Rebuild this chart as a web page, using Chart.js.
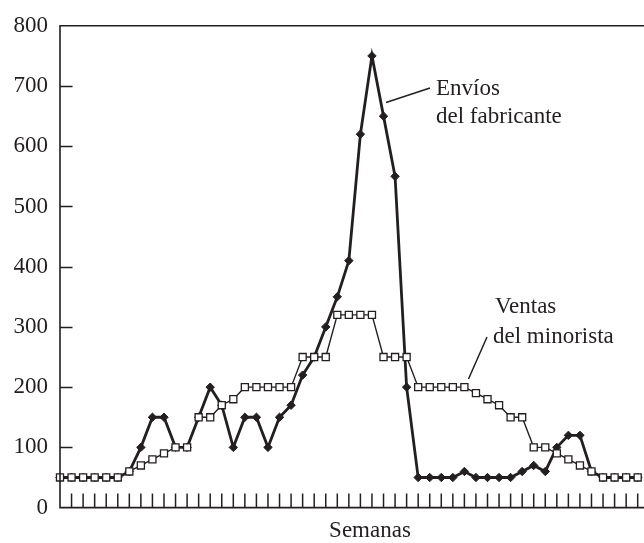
<!DOCTYPE html>
<html>
<head>
<meta charset="utf-8">
<script src="https://cdn.jsdelivr.net/npm/chart.js@4.4.1/dist/chart.umd.min.js"></script>
<style>
  html, body { margin: 0; padding: 0; background: #ffffff; }
  #wrap { position: relative; width: 644px; height: 543px; }
</style>
</head>
<body>
<div id="wrap"><canvas id="c" width="644" height="543"></canvas></div>
<script>
// Weekly figures (units per week)
const weeks = Array.from({ length: 51 }, (_, i) => String(i + 1));

const retailerSales = [
  50, 50, 50, 50, 50, 50, 60, 70, 80, 90,
  100, 100, 150, 150, 170, 180, 200, 200, 200, 200,
  200, 250, 250, 250, 320, 320, 320, 320, 250, 250,
  250, 200, 200, 200, 200, 200, 190, 180, 170, 150,
  150, 100, 100, 90, 80, 70, 60, 50, 50, 50,
  50
];

const manufacturerShipments = [
  50, 50, 50, 50, 50, 50, 60, 100, 150, 150,
  100, 100, 150, 200, 170, 100, 150, 150, 100, 150,
  170, 220, 250, 300, 350, 410, 620, 750, 650, 550,
  200, 50, 50, 50, 50, 60, 50, 50, 50, 50,
  60, 70, 60, 100, 120, 120, 60, 50, 50, 50,
  50
];

const yTicks = [0, 100, 200, 300, 400, 500, 600, 700, 800];

const INK = '#231f20';
const FONT = '"Liberation Serif", "Times New Roman", serif';

// Axis frame, inward tick marks and annotations
const framePlugin = {
  id: 'frame',
  afterDraw(chart) {
    const { ctx, chartArea } = chart;
    const x = chart.scales.x, y = chart.scales.y;
    const left = chartArea.left, bottom = y.getPixelForValue(0), top = y.getPixelForValue(800);
    const right = 644;
    ctx.save();
    ctx.strokeStyle = INK;
    ctx.lineWidth = 1.6;
    ctx.beginPath();
    ctx.moveTo(right, top); ctx.lineTo(left, top);
    ctx.lineTo(left, bottom); ctx.lineTo(right, bottom);
    ctx.stroke();

    // y ticks pointing into the plot
    ctx.lineWidth = 1.5;
    ctx.beginPath();
    yTicks.forEach(v => {
      if (v === 0 || v === 800) return;
      const py = Math.round(y.getPixelForValue(v)) + 0.5;
      ctx.moveTo(left, py); ctx.lineTo(left + 12.5, py);
    });
    ctx.stroke();

    // x ticks pointing up from the baseline
    ctx.beginPath();
    weeks.forEach((w, i) => {
      if (i === 0) return;
      const px = x.getPixelForValue(i);
      ctx.moveTo(px, bottom); ctx.lineTo(px, bottom - 14);
    });
    ctx.stroke();

    // callout leaders
    ctx.lineWidth = 1.5;
    ctx.beginPath();
    ctx.moveTo(386, 102.5); ctx.lineTo(430, 88);
    ctx.moveTo(468.5, 379); ctx.lineTo(487, 337);
    ctx.stroke();

    ctx.fillStyle = INK;
    ctx.font = '23px ' + FONT;
    ctx.textBaseline = 'alphabetic';
    ctx.textAlign = 'left';
    ctx.fillText('Envíos', 436, 95);
    ctx.fillText('del fabricante', 436, 123);
    ctx.fillText('Ventas', 495, 313);
    ctx.fillText('del minorista', 493, 343);
    ctx.textAlign = 'center';
    ctx.fillText('Semanas', 370, 537);
    ctx.restore();
  }
};

new Chart(document.getElementById('c'), {
  type: 'line',
  data: {
    labels: weeks,
    datasets: [
      {
        label: 'Ventas del minorista',
        data: retailerSales,
        order: 0,
        borderColor: INK,
        borderWidth: 1.4,
        pointStyle: 'rect',
        pointRadius: 5,
        pointBorderWidth: 1.3,
        pointBackgroundColor: '#ffffff',
        pointBorderColor: INK,
        tension: 0,
        fill: false
      },
      {
        label: 'Envíos del fabricante',
        data: manufacturerShipments,
        order: 1,
        borderColor: INK,
        borderWidth: 2.8,
        pointStyle: 'rectRot',
        pointRadius: 4.2,
        pointBorderWidth: 1,
        pointBackgroundColor: INK,
        pointBorderColor: INK,
        tension: 0,
        fill: false
      }
    ]
  },
  options: {
    responsive: false,
    animation: false,
    clip: false,
    layout: { padding: { top: 22.7, right: 2, left: 0, bottom: 0 } },
    plugins: { legend: { display: false }, tooltip: { enabled: false } },
    scales: {
      x: {
        type: 'category',
        offset: false,
        grid: { display: false },
        border: { display: false },
        ticks: { display: false },
        afterFit(scale) { scale.height = 35.4; }
      },
      y: {
        min: 0,
        max: 800,
        afterBuildTicks(scale) { scale.ticks = yTicks.map(v => ({ value: v })); },
        grid: { display: false, drawTicks: false },
        border: { display: false },
        ticks: {
          color: INK,
          padding: 12,
          font: { family: FONT, size: 23 }
        },
        afterFit(scale) { scale.width = 60; }
      }
    }
  },
  plugins: [framePlugin]
});
</script>
</body>
</html>
